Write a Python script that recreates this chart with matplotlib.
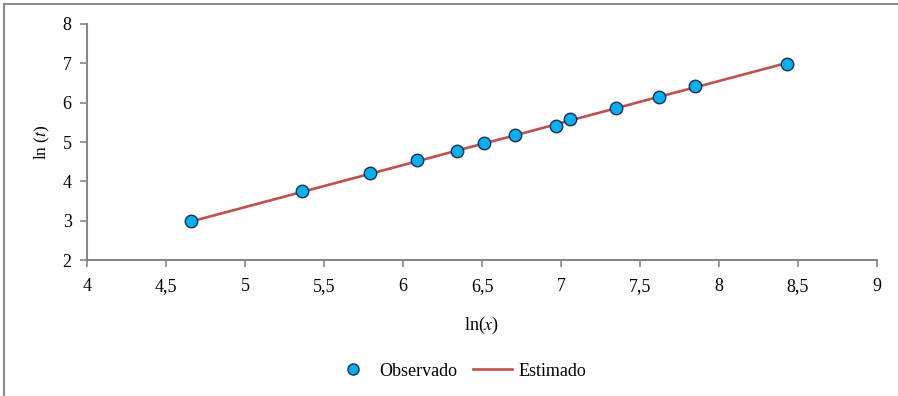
import matplotlib.pyplot as plt
from matplotlib.lines import Line2D

# data
ln_x = [4.66, 5.36, 5.79, 6.09, 6.34, 6.51, 6.71, 6.97, 7.06, 7.35, 7.62, 7.85, 8.43]
ln_t_obs = [2.98, 3.76, 4.21, 4.53, 4.77, 4.98, 5.19, 5.40, 5.58, 5.86, 6.14, 6.42, 6.99]
ln_t_est = [2.98, 3.73, 4.19, 4.51, 4.78, 4.96, 5.17, 5.45, 5.55, 5.86, 6.15, 6.39, 7.01]

xticks = [4, 4.5, 5, 5.5, 6, 6.5, 7, 7.5, 8, 8.5, 9]
xtick_labels = ['4', '4,5', '5', '5,5', '6', '6,5', '7', '7,5', '8', '8,5', '9']
yticks = [2, 3, 4, 5, 6, 7, 8]

plt.rcParams['font.family'] = ['Liberation Serif', 'DejaVu Serif']
plt.rcParams['mathtext.fontset'] = 'stix'

fig = plt.figure(figsize=(8.98, 3.96), dpi=100)
ax = fig.add_axes([0.0969, 0.3434, 0.8797, 0.596])

ax.plot(ln_x, ln_t_est, color='#C0504D', lw=1.9, label='Estimado', zorder=2)
ax.plot(ln_x, ln_t_obs, 'o', ms=9, mfc='#00B0F0', mec='#1F3050', mew=1.0,
        label='Observado', zorder=3, clip_on=False)

ax.set_xlim(4, 9)
ax.set_ylim(2, 8)
ax.set_xticks(xticks)
ax.set_xticklabels(xtick_labels)
ax.set_yticks(yticks)

for s in ['top', 'right']:
    ax.spines[s].set_visible(False)
for s in ['left', 'bottom']:
    ax.spines[s].set_color('#868686')
    ax.spines[s].set_linewidth(1.5)
ax.tick_params(colors='#868686', labelcolor='black', labelsize=13,
               length=5, width=1.2, direction='out')
ax.tick_params(axis='x', pad=8)
ax.tick_params(axis='y', pad=6)

ax.set_xlabel(r'ln($\mathit{x}$)', fontsize=13, labelpad=14)
ax.set_ylabel(r'ln ($\mathit{t}$)', fontsize=12.5, labelpad=8)

handles = [Line2D([], [], ls='none', marker='o', ms=8, mfc='#00B0F0', mec='#1F3050', mew=1.0),
           Line2D([], [], color='#C0504D', lw=1.9)]
fig.legend(handles, ['Observado', 'Estimado'], loc='center', bbox_to_anchor=(0.512, 0.063),
           ncol=2, frameon=False, fontsize=13, handlelength=2.2, handletextpad=0.35,
           columnspacing=0.85)

# figure border (only top and left are visible in the reference)
fig.add_artist(Line2D([0.005, 1.0], [0.99, 0.99], color='#8c8c8c', lw=1.5))
fig.add_artist(Line2D([0.005, 0.005], [0.0, 0.99], color='#8c8c8c', lw=1.5))

fig.savefig('out.png', dpi=100)
